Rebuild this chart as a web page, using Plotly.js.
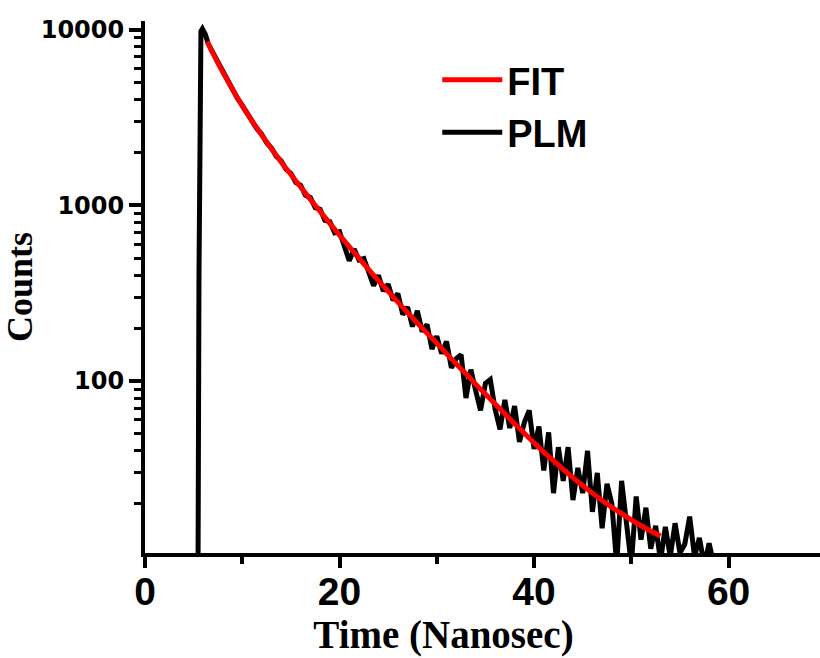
<!DOCTYPE html>
<html>
<head>
<meta charset="utf-8">
<script src="https://cdn.plot.ly/plotly-3.0.1.min.js"></script>
<style>
  html, body { margin: 0; padding: 0; background: #ffffff; }
  #chart { width: 820px; height: 658px; }
</style>
</head>
<body>
<div id="chart"></div>
<script>
// ---- Data ----
// PLM (measured photoluminescence decay), time in ns
const plmTime = [
  0, 5.4, 5.55, 5.65, 5.75, 5.9, 6.2,
  6.5, 7, 7.5, 8, 8.5, 9, 9.5, 10, 10.5, 11,
  11.5, 12, 12.5, 13, 13.5, 14, 14.5, 15, 15.5, 16,
  16.5, 17, 17.5, 18, 18.5, 19, 19.5, 20, 20.5, 21,
  21.5, 22, 22.5, 23, 23.5, 24, 24.5, 25, 25.5, 26,
  26.5, 27, 27.5, 28, 28.5, 29, 29.5, 30, 30.5, 31,
  31.5, 32, 32.5, 33, 33.5, 34, 34.5, 35, 35.5, 36,
  36.5, 37, 37.5, 38, 38.5, 39, 39.5, 40, 40.5, 41,
  41.5, 42, 42.5, 43, 43.5, 44, 44.5, 45, 45.5, 46,
  46.5, 47, 47.5, 48, 48.5, 49, 49.5, 50, 50.5, 51,
  51.5, 52, 52.5, 53, 53.5, 54, 54.5, 55, 55.5, 56,
  56.5, 57, 57.5, 58, 58.5, 59, 59.5
];
const plmCounts = [
  1, 1, 400, 7000, 9800, 10100, 9400,
  8300, 7350, 6450, 5760, 5080, 4590, 4070, 3700, 3310, 3050,
  2730, 2540, 2270, 2120, 1900, 1790, 1600, 1520, 1350, 1300,
  1140, 1110, 970, 950, 820, 807, 697, 708, 572, 483,
  564, 489, 498, 412, 349, 400, 325, 355, 288, 315,
  239, 263, 204, 251, 191, 210, 152, 180, 143, 168,
  119, 134, 141, 80, 116, 88, 68, 97, 102, 69,
  53, 78, 54, 72, 45, 58, 68, 41, 55, 31,
  51, 23, 42, 27, 42, 21, 32, 23, 40, 18,
  30, 14.5, 26, 20, 9, 27, 15, 9, 22, 12.5,
  19, 11.1, 15, 9.5, 14.8, 10, 15.5, 10.5, 11.8, 16.9,
  10, 12.8, 9, 11.9, 9, 9, 9
];
// FIT (decay fit curve)
const fitTime = [
  6.4, 7, 8, 9, 10, 11, 12, 13, 14, 15,
  16, 17, 18, 19, 20, 21, 22, 23, 24, 25,
  26, 27, 28, 29, 30, 31, 32, 33, 34, 35,
  36, 37, 38, 39, 40, 41, 42, 43, 44, 45,
  46, 47, 48, 49, 50, 51, 52, 53
];
const fitCounts = [
  8551, 7311, 5728, 4560, 3681, 3027, 2512, 2099, 1766, 1496,
  1271, 1081, 923, 789, 676, 581, 500, 431, 373, 324,
  281, 245, 214, 187, 164, 143, 125, 110, 96, 84.3,
  74.0, 65.0, 57.1, 50.4, 44.5, 39.4, 35.2, 31.4, 28.2, 25.4,
  23.0, 20.9, 19.1, 17.6, 16.2, 15.0, 14.0, 13.1
];
// Axis ticks
const xTickVals = [0, 20, 40, 60];
const xMinorVals = [10, 30, 50];
const yTickVals = [100, 1000, 10000];
const yTickText = ['100', '1000', '10000'];
const seriesNames = ['PLM', 'FIT'];

// minor log ticks 2..9 per decade
const yMinorVals = [];
[10, 100, 1000].forEach(d => { for (let k = 2; k <= 9; k++) yMinorVals.push(k * d); });

const traces = [
  {
    x: plmTime, y: plmCounts, name: seriesNames[0], type: 'scatter', mode: 'lines',
    line: { color: '#000000', width: 5 }
  },
  {
    x: fitTime, y: fitCounts, name: seriesNames[1], type: 'scatter', mode: 'lines',
    line: { color: '#ff0000', width: 5, shape: 'spline' }
  }
];

const nb = '\u00a0';
const layout = {
  width: 820, height: 658,
  paper_bgcolor: '#ffffff', plot_bgcolor: '#ffffff',
  margin: { l: 145, r: 0, t: 21, b: 105, pad: 0 },
  showlegend: true,
  legend: {
    x: 0.433, y: 0.948, xanchor: 'left', yanchor: 'top',
    traceorder: 'reversed',
    itemwidth: 60,
    bgcolor: 'rgba(0,0,0,0)',
    font: { family: 'Liberation Sans, Arial, sans-serif', size: 38, color: '#000', weight: 'bold' },
    tracegroupgap: 0
  },
  xaxis: {
    type: 'linear', range: [0, 69.4],
    showgrid: false, zeroline: false,
    showline: true, linecolor: '#000', linewidth: 4,
    ticks: 'outside', ticklen: 11, tickwidth: 4, tickcolor: '#000',
    tickmode: 'array', tickvals: xTickVals,
    ticklabelstandoff: -10,
    minor: { tickmode: 'array', tickvals: xMinorVals, ticks: 'outside', ticklen: 7, tickwidth: 4, tickcolor: '#000' },
    tickfont: { family: 'Liberation Sans, Arial, sans-serif', size: 39, color: '#000', weight: 'bold' },
    title: {
      text: 'Time (Nanosec)' + nb.repeat(8) + '\u200b', standoff: 6,
      font: { family: 'Liberation Serif, Times New Roman, serif', size: 39, color: '#000', weight: 'bold' }
    }
  },
  yaxis: {
    type: 'log', range: [1.021, 4.049],
    showgrid: false, zeroline: false,
    showline: true, linecolor: '#000', linewidth: 4,
    ticks: 'outside', ticklen: 12, tickwidth: 4, tickcolor: '#000',
    tickmode: 'array', tickvals: yTickVals, ticktext: yTickText,
    minor: { tickmode: 'array', tickvals: yMinorVals, ticks: 'outside', ticklen: 7, tickwidth: 3, tickcolor: '#000' },
    tickfont: { family: 'DejaVu Sans, sans-serif', size: 24, color: '#000', weight: 'bold' },
    title: {
      text: 'Counts', standoff: 0,
      font: { family: 'Liberation Serif, Times New Roman, serif', size: 36, color: '#000', weight: 'bold' }
    }
  }
};

Plotly.newPlot('chart', traces, layout, { staticPlot: true, displayModeBar: false });
</script>
</body>
</html>
